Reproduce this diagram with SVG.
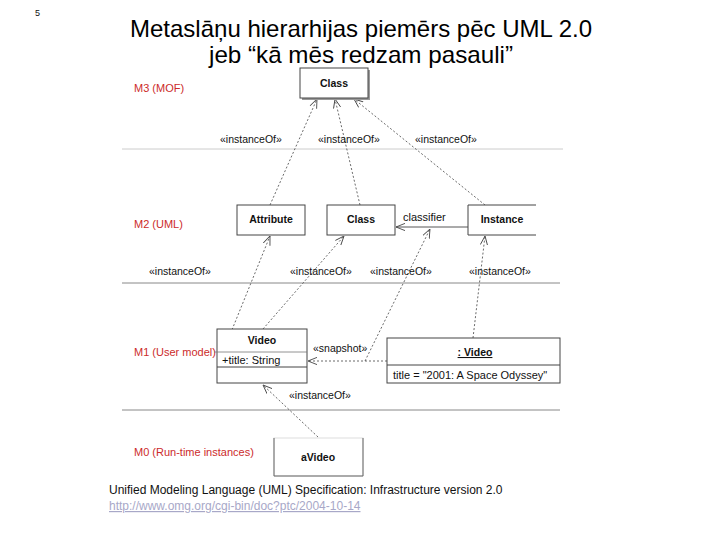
<svg xmlns="http://www.w3.org/2000/svg" width="720" height="540" viewBox="0 0 720 540">
<style>
text{font-family:"Liberation Sans",Arial,sans-serif;}
.lvl{fill:#cc2b2b;font-size:11px;}
.st{font-size:10.5px;fill:#111;}
.nm{font-size:10.5px;font-weight:bold;fill:#111;}
.tx{font-size:11px;fill:#111;}
.box{fill:#fff;stroke:#444;stroke-width:1;}
.dash{fill:none;stroke:#444;stroke-width:0.8;stroke-dasharray:2,2;}
.sep{stroke-width:1;}
</style>
<defs>
<marker id="oa" viewBox="0 0 10 10" refX="10" refY="5" markerWidth="9" markerHeight="9" orient="auto" markerUnits="userSpaceOnUse">
<path d="M0,1 L10,5 L0,9" fill="none" stroke="#444" stroke-width="1"/>
</marker>
</defs>
<rect width="720" height="540" fill="#fff"/>
<text x="35" y="16" font-size="9" fill="#111">5</text>
<text x="361" y="37" text-anchor="middle" font-size="24" fill="#000" textLength="462" lengthAdjust="spacingAndGlyphs">Metaslāņu hierarhijas piemērs pēc UML 2.0</text>
<text x="361" y="63" text-anchor="middle" font-size="24" fill="#000" textLength="304" lengthAdjust="spacingAndGlyphs">jeb “kā mēs redzam pasauli”</text>

<line class="sep" x1="122" y1="149" x2="563" y2="149" stroke="#ccc"/>
<line class="sep" x1="122" y1="283" x2="560" y2="283" stroke="#888"/>
<line class="sep" x1="122" y1="410" x2="560" y2="410" stroke="#888"/>

<text class="lvl" x="134" y="92">M3 (MOF)</text>
<text class="lvl" x="134" y="228">M2 (UML)</text>
<text class="lvl" x="134" y="356">M1 (User model)</text>
<text class="lvl" x="134" y="456">M0 (Run-time instances)</text>

<g id="connectors">
<path class="dash" d="M270,205 L317,99" marker-end="url(#oa)"/>
<path class="dash" d="M360,205 L335,99" marker-end="url(#oa)"/>
<path class="dash" d="M485,205 L354,99" marker-end="url(#oa)"/>
<path d="M468,227 L396,227" fill="none" stroke="#444" stroke-width="0.9" marker-end="url(#oa)"/>
<path class="dash" d="M223,352 L270,236" marker-end="url(#oa)"/>
<path class="dash" d="M263,329 L344,236" marker-end="url(#oa)"/>
<path class="dash" d="M365,361 L430,229" marker-end="url(#oa)"/>
<path class="dash" d="M473,338 L485,236" marker-end="url(#oa)"/>
<path class="dash" d="M387,361 L308,361" marker-end="url(#oa)"/>
<path class="dash" d="M318,437 L263,385" marker-end="url(#oa)"/>
<text class="st" x="220" y="143">«instanceOf»</text>
<text class="st" x="318" y="143">«instanceOf»</text>
<text class="st" x="415" y="143">«instanceOf»</text>
<text class="tx" x="403" y="221">classifier</text>
<text class="st" x="149" y="275">«instanceOf»</text>
<text class="st" x="290" y="275">«instanceOf»</text>
<text class="st" x="370" y="275">«instanceOf»</text>
<text class="st" x="469" y="275">«instanceOf»</text>
<text class="st" x="313" y="352">«snapshot»</text>
<text class="st" x="289" y="399">«instanceOf»</text>
</g>

<g id="m3-class">
<rect x="302" y="70" width="68" height="30" fill="#999"/>
<rect class="box" x="300" y="68" width="68" height="30" stroke="#aaa"/>
<text class="nm" x="334" y="87" text-anchor="middle">Class</text>
</g>
<g id="m2-attribute">
<rect class="box" x="237" y="205" width="68" height="30"/>
<text class="nm" x="271" y="223" text-anchor="middle">Attribute</text>
</g>
<g id="m2-class">
<rect class="box" x="327" y="205" width="68" height="30"/>
<text class="nm" x="361" y="223" text-anchor="middle">Class</text>
</g>
<g id="m2-instance">
<rect x="468" y="205" width="68" height="30" fill="#fff"/>
<path d="M536,205 L468,205 L468,235 L536,235" fill="none" stroke="#444"/>
<text class="nm" x="502" y="223" text-anchor="middle">Instance</text>
</g>
<g id="m1-video">
<rect class="box" x="217" y="329" width="90" height="54"/>
<line x1="214" y1="352" x2="307" y2="352" stroke="#777" stroke-width="0.8"/>
<line x1="217" y1="367" x2="307" y2="367" stroke="#444"/>
<text class="nm" x="262" y="344" text-anchor="middle">Video</text>
<text class="tx" x="222" y="364">+title: String</text>
</g>
<g id="m1-video-instance">
<rect class="box" x="387" y="338" width="173" height="45"/>
<line x1="387" y1="365" x2="560" y2="365" stroke="#444"/>
<text class="nm" x="475" y="356" text-anchor="middle" text-decoration="underline">: Video</text>
<text class="tx" x="393" y="379">title = "2001: A Space Odyssey"</text>
</g>
<g id="m0-avideo">
<rect x="274" y="438" width="89" height="38" fill="#fff" stroke="#ddd"/>
<path d="M274,438 L274,476 L363,476 L363,438" fill="none" stroke="#666"/>
<text class="nm" x="318" y="461" text-anchor="middle">aVideo</text>
</g>

<text x="109" y="494" font-size="12" fill="#111">Unified Modeling Language (UML) Specification: Infrastructure version 2.0</text>
<text x="109" y="510" font-size="12" fill="#a8a8c8" text-decoration="underline">http://www.omg.org/cgi-bin/doc?ptc/2004-10-14</text>
</svg>
